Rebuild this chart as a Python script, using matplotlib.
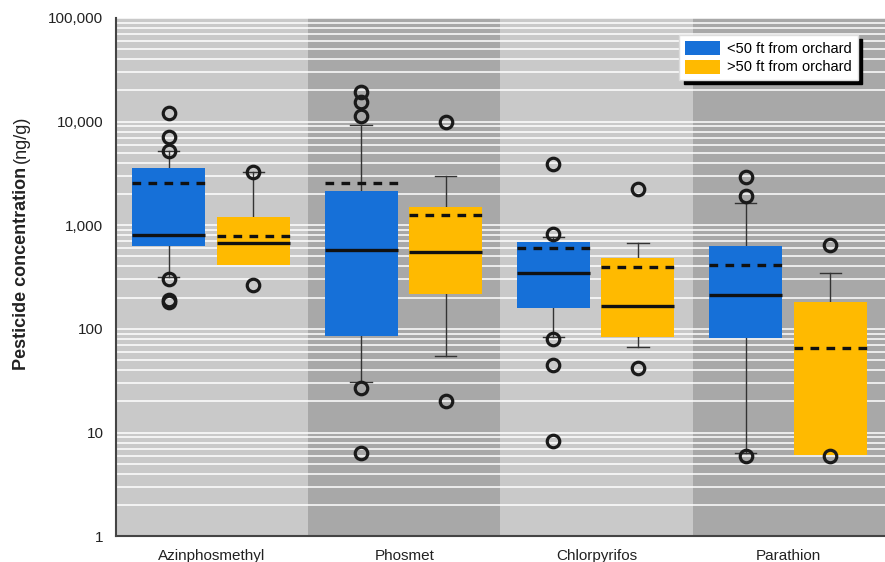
# Pesticide concentration box plots, near vs far from orchard
import matplotlib
matplotlib.use("Agg")
import matplotlib.pyplot as plt
from matplotlib.patches import Patch
import numpy as np

plt.rcParams['font.family'] = ['Liberation Sans', 'DejaVu Sans']

# Data (ng/g)
categories = ["Azinphosmethyl", "Phosmet", "Chlorpyrifos", "Parathion"]

near_q1 = [635, 86, 160, 82]
near_q3 = [3565, 2150, 684, 634]
near_med = [804, 577, 343, 212]
near_mean = [2555, 2540, 598, 413]
near_lo = [316, 31, 84, 6.3]
near_hi = [5200, 9270, 764, 1626]
near_out = [[12000, 7150, 5200, 300, 190, 180],
            [19400, 15600, 11300, 26.7, 6.4],
            [3870, 817, 80, 44.7, 8.3],
            [2900, 1914, 6.0]]

far_q1 = [413, 215, 84, 6.05]
far_q3 = [1208, 1490, 479, 183]
far_med = [673, 555, 166, None]
far_mean = [792, 1254, 398, 66]
far_lo = [413, 54.6, 67, 6.05]
far_hi = [3260, 3000, 678, 343]
far_out = [[3260, 265], [9980, 20.1], [2235, 41.6], [644, 6.0]]

blue = '#1670d8'
orange = '#ffba00'

def make_stats(q1, q3, med, mean, lo, hi, out):
    stats = []
    for i in range(len(q1)):
        m = med[i] if med[i] is not None else q1[i]
        stats.append(dict(q1=q1[i], q3=q3[i], med=m, mean=mean[i],
                          whislo=lo[i], whishi=hi[i], fliers=out[i]))
    return stats

fig = plt.figure(figsize=(8.85, 5.62), dpi=100)
fig.patch.set_facecolor('white')
ax = fig.add_axes([0.131, 0.046, 0.869, 0.922])

# alternating background bands
band_colors = ['#c9c9c9', '#a8a8a8', '#c9c9c9', '#a8a8a8']
for i, c in enumerate(band_colors):
    ax.axvspan(i - 0.5, i + 0.5, color=c, zorder=0, lw=0)

ax.set_yscale('log')
ax.set_ylim(1, 100000)
ax.set_xlim(-0.5, 3.5)

ax.yaxis.grid(True, which='both', color='white', lw=1.1, zorder=1)
ax.set_axisbelow(True)

pos = np.arange(len(categories))
common = dict(widths=0.38, patch_artist=True, showmeans=True, meanline=True,
              boxprops=dict(lw=0), whiskerprops=dict(color='#333333', lw=1),
              capprops=dict(color='#333333', lw=1), capwidths=0.11,
              medianprops=dict(color='#111111', lw=2.4),
              meanprops=dict(color='#111111', lw=2.4, linestyle=(0, (2.6, 2.2))),
              flierprops=dict(marker='o', markerfacecolor='none',
                              markeredgecolor='#1a1a1a', markeredgewidth=2.3,
                              markersize=9))

res_near = ax.bxp(make_stats(near_q1, near_q3, near_med, near_mean, near_lo, near_hi, near_out),
                  positions=pos - 0.225, **common)
res_far = ax.bxp(make_stats(far_q1, far_q3, far_med, far_mean, far_lo, far_hi, far_out),
                 positions=pos + 0.215, **common)

for b in res_near['boxes']:
    b.set_facecolor(blue)
for b in res_far['boxes']:
    b.set_facecolor(orange)
for i, m in enumerate(far_med):
    if m is None:
        res_far['medians'][i].set_visible(False)
# no lower whisker where it coincides with the box edge
for i in range(len(far_lo)):
    if far_lo[i] >= far_q1[i]:
        res_far['caps'][2 * i].set_visible(False)

for k in ['boxes', 'medians', 'means', 'whiskers', 'caps', 'fliers']:
    for a in res_near[k] + res_far[k]:
        a.set_zorder(3 if k in ('whiskers', 'caps') else 4)

ax.set_xticks(pos)
ax.set_xticklabels(categories, fontsize=11, color='#222222')
yt = [1, 10, 100, 1000, 10000, 100000]
ax.set_yticks(yt)
ax.set_yticklabels(['1', '10', '100', '1,000', '10,000', '100,000'], fontsize=11, color='#222222')
ax.yaxis.set_minor_formatter(plt.NullFormatter())
ax.tick_params(axis='both', which='both', length=0)
ax.tick_params(axis='y', pad=9)
ax.tick_params(axis='x', pad=9)

for s in ['top', 'right']:
    ax.spines[s].set_visible(False)
ax.spines['left'].set_color('#444444')
ax.spines['bottom'].set_color('#444444')
ax.spines['left'].set_linewidth(1.5)
ax.spines['bottom'].set_linewidth(1.5)

handles = [Patch(facecolor=blue, edgecolor='none'), Patch(facecolor=orange, edgecolor='none')]
leg = ax.legend(handles, ['<50 ft from orchard', '>50 ft from orchard'],
                loc='upper right', bbox_to_anchor=(0.965, 0.967), borderaxespad=0,
                fancybox=False, framealpha=1, edgecolor='#dddddd', fontsize=10.5,
                handlelength=2.4, handleheight=1.1, handletextpad=0.5,
                labelspacing=0.25, borderpad=0.4,
                shadow={'color': 'black', 'alpha': 1, 'ox': 3, 'oy': -3})
leg.set_zorder(6)

# y label: bold part then regular part
fig.canvas.draw()
t1 = fig.text(0.024, 0.342, 'Pesticide concentration', rotation=90, fontsize=13,
              fontweight='bold', ha='center', va='bottom', color='#222222')
fig.canvas.draw()
bb = t1.get_window_extent()
x_top, y_top = fig.transFigure.inverted().transform((bb.x0, bb.y1))
fig.text(0.024, y_top + 0.006, '(ng/g)', rotation=90, fontsize=13,
         ha='center', va='bottom', color='#222222')

fig.savefig('out.png', dpi=100, facecolor=fig.get_facecolor())
